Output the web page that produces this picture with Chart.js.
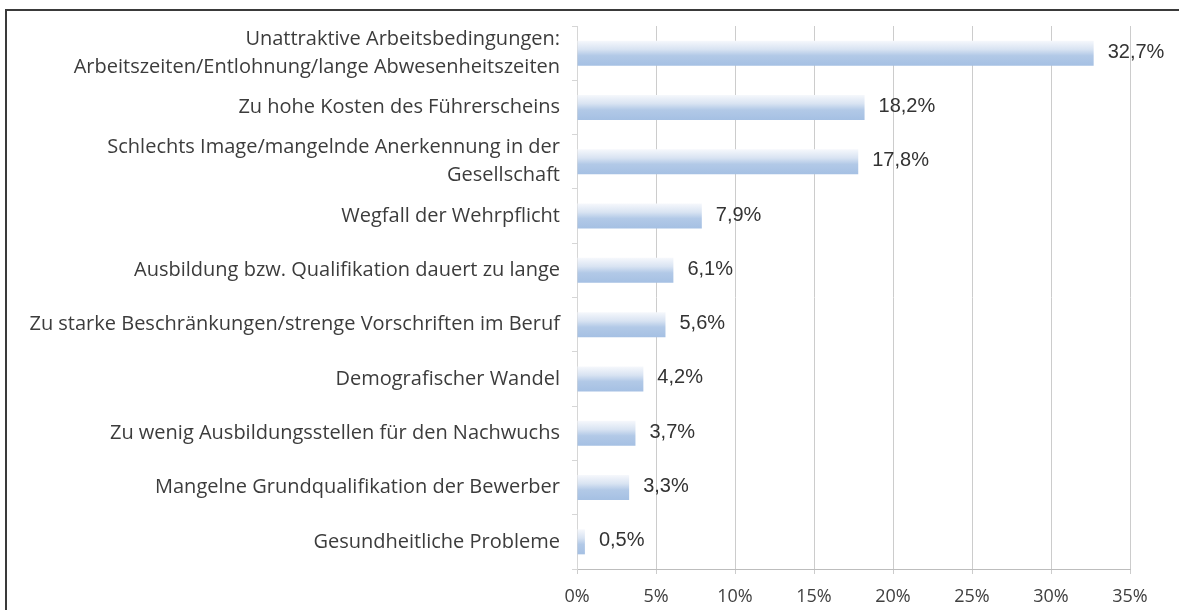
<!DOCTYPE html>
<html>
<head>
<meta charset="utf-8">
<script src="https://cdn.jsdelivr.net/npm/chart.js@4/dist/chart.umd.min.js"></script>
<style>
  html, body { margin: 0; padding: 0; background: #fff; }
  #wrap { position: relative; width: 1179px; height: 610px; overflow: hidden; }
  #frame { position: absolute; left: 5px; top: 9px; width: 1300px; height: 700px;
           border-left: 2px solid #3a3a3a; border-top: 2px solid #3a3a3a; pointer-events: none; }
  canvas { position: absolute; left: 0; top: 0; }
</style>
</head>
<body>
<div id="wrap">
  <canvas id="c" width="1179" height="610"></canvas>
  <div id="frame"></div>
</div>
<script>
const categories = [
  ["Unattraktive Arbeitsbedingungen:", "Arbeitszeiten/Entlohnung/lange Abwesenheitszeiten"],
  "Zu hohe Kosten des Führerscheins",
  ["Schlechts Image/mangelnde Anerkennung in der", "Gesellschaft"],
  "Wegfall der Wehrpflicht",
  "Ausbildung bzw. Qualifikation dauert zu lange",
  "Zu starke Beschränkungen/strenge Vorschriften im Beruf",
  "Demografischer Wandel",
  "Zu wenig Ausbildungsstellen für den Nachwuchs",
  "Mangelne Grundqualifikation der Bewerber",
  "Gesundheitliche Probleme"
];
const values = [32.7, 18.2, 17.8, 7.9, 6.1, 5.6, 4.2, 3.7, 3.3, 0.5];
const xTicks = [0, 5, 10, 15, 20, 25, 30, 35];

const BAR_FRACTION = 0.46;

function barGradient(ctx) {
  const chart = ctx.chart;
  if (!chart.chartArea) return '#adc6e6';
  const ys = chart.scales.y;
  const yc = ys.getPixelForValue(ctx.dataIndex);
  const h = (ys.bottom - ys.top) / categories.length * BAR_FRACTION;
  const g = chart.ctx.createLinearGradient(0, yc - h / 2, 0, yc + h / 2);
  g.addColorStop(0, '#f6f8fc');
  g.addColorStop(0.35, '#d8e3f2');
  g.addColorStop(0.6, '#b2c9e7');
  g.addColorStop(1, '#a5c0e3');
  return g;
}

const valueLabels = {
  id: 'valueLabels',
  afterDatasetsDraw(chart) {
    const c = chart.ctx;
    const meta = chart.getDatasetMeta(0);
    c.save();
    c.font = '20px "Liberation Sans", Arial, sans-serif';
    c.fillStyle = '#333333';
    c.textAlign = 'left';
    c.textBaseline = 'middle';
    meta.data.forEach((bar, i) => {
      const txt = values[i].toFixed(1).replace('.', ',') + '%';
      c.fillText(txt, bar.x + 14, bar.y - 1);
    });
    c.restore();
  }
};

new Chart(document.getElementById('c'), {
  type: 'bar',
  data: {
    labels: categories,
    datasets: [{
      data: values,
      backgroundColor: barGradient,
      borderWidth: 0,
      categoryPercentage: 1,
      barPercentage: BAR_FRACTION
    }]
  },
  options: {
    indexAxis: 'y',
    responsive: false,
    animation: false,
    devicePixelRatio: 1,
    layout: { padding: { top: 21, right: 49, left: 0, bottom: 0 } },
    plugins: { legend: { display: false }, tooltip: { enabled: false } },
    scales: {
      x: {
        min: 0, max: 35,
        afterBuildTicks(scale) { scale.ticks = xTicks.map(v => ({ value: v })); },
        afterFit(scale) { scale.height = 41; },
        grid: { color: '#cccccc', lineWidth: 1, tickLength: 5 },
        border: { color: '#bdbdbd' },
        ticks: {
          callback: v => v + '%',
          color: '#404040',
          padding: 12,
          maxRotation: 0,
          autoSkip: false,
          font: { family: '"Open Sans", Lato, sans-serif', size: 18 }
        }
      },
      y: {
        afterFit(scale) { scale.width = 577; },
        grid: { display: true, drawOnChartArea: false, color: '#d6d6d6', tickLength: 5 },
        border: { color: '#d6d6d6' },
        ticks: {
          color: '#3c3c3c',
          padding: 12,
          autoSkip: false,
          font: { family: '"Open Sans", Lato, sans-serif', size: 20, lineHeight: 1.4 }
        }
      }
    }
  },
  plugins: [valueLabels]
});
</script>
</body>
</html>
